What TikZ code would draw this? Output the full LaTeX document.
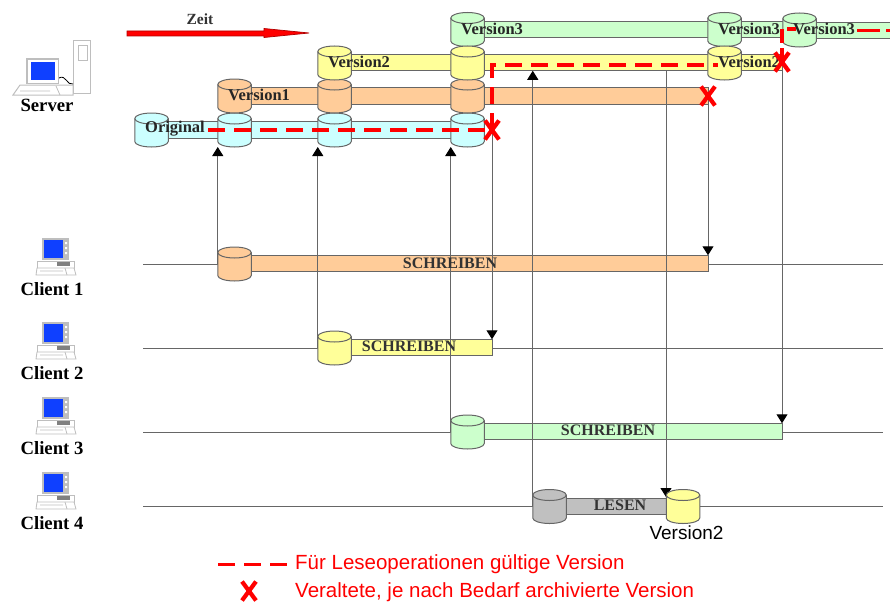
\documentclass[tikz,border=0pt]{standalone}
\usepackage{fontspec}
\setmainfont{Liberation Serif}
\newfontfamily\legendfont{Liberation Sans}
\usetikzlibrary{shapes.misc,arrows.meta}
\definecolor{cor}{HTML}{FFCC99}
\definecolor{cye}{HTML}{FFFF99}
\definecolor{cgr}{HTML}{CCFFCC}
\definecolor{ccy}{HTML}{CCFFFF}
\definecolor{cgy}{HTML}{C0C0C0}
\definecolor{edgeg}{HTML}{666666}
\definecolor{scr}{HTML}{0F40FF}
\definecolor{pcg}{HTML}{BEBEBE}
\tikzset{
 x=1pt,y=-1pt,
 barbox/.style={draw=edgeg,line width=1pt,inner sep=0pt,outer sep=0pt,minimum height=16.5pt,anchor=west},
 cylhull/.style={inner sep=0pt,outer sep=0pt,minimum width=33.5pt,minimum height=34pt},
 cyledge/.style={draw=edgeg,line width=1pt},
 lbl/.style={font=\fontsize{16.5}{16.5}\selectfont\bfseries,text=black!85,inner sep=0pt,anchor=west},
 clbl/.style={font=\fontsize{18.7}{18.7}\selectfont\bfseries,text=black,inner sep=0pt},
 schr/.style={font=\fontsize{16}{16}\selectfont\bfseries,text=black!80,inner sep=0pt},
 conn/.style={draw=edgeg,line width=1pt},
 connarrow/.style={conn,-{Triangle[width=11pt,length=9pt,color=black]}},
 tline/.style={draw=edgeg,line width=1pt},
 rdash/.style={draw=red,line width=3.6pt,dash pattern=on 17pt off 9pt},
 rx/.style={shape=cross out,draw=red,line width=4.2pt,inner sep=0pt,outer sep=0pt,minimum width=14pt,minimum height=19pt},
 legtext/.style={font=\fontsize{20.5}{20.5}\selectfont\legendfont,text=red,inner sep=0pt,anchor=west},
 pc/.pic={
  \fill[pcg] (5,-23) rectangle (32,-1);
  \fill[scr] (7,-21) rectangle (26,-3);
  \fill[white] (28,-19) rectangle (30,-17) (28,-14) rectangle (30,-12) (28,-9) rectangle (30,-7);
  \draw[pcg,fill=white,line width=.8pt] (0,0) rectangle (37,7);
  \fill[gray] (20,1) rectangle (33,5);
  \draw[pcg,fill=white,line width=.8pt] (0,7) -- (37,7) -- (39,14) -- (-1,14) -- cycle;
  \draw[pcg,line width=.8pt] (28,7) -- (30,14) (3,10) -- (26,10);
 }
}
% #1 name, #2 x, #3 y, #4 colour
\newcommand{\dbcyl}[4]{%
 \node[cylhull] (#1) at (#2,#3) {};
 \draw[cyledge,fill=#4] ([shift={(0,5.5)}]#1.north west) -- ([shift={(0,-5.5)}]#1.south west)
   .. controls +(0,3.04) and +(-9.25,0) .. (#1.south)
   .. controls +(9.25,0) and +(0,3.04) .. ([shift={(0,-5.5)}]#1.south east)
   -- ([shift={(0,5.5)}]#1.north east)
   .. controls +(0,-3.04) and +(9.25,0) .. (#1.north)
   .. controls +(-9.25,0) and +(0,-3.04) .. ([shift={(0,5.5)}]#1.north west) -- cycle;
 \draw[cyledge] ([shift={(0,5.5)}]#1.north west)
   .. controls +(0,3.04) and +(-9.25,0) .. ([shift={(0,11)}]#1.north)
   .. controls +(9.25,0) and +(0,3.04) .. ([shift={(0,5.5)}]#1.north east);
}
\begin{document}
\begin{tikzpicture}
\useasboundingbox (0,0) rectangle (890,602);
% time lines
\coordinate (t1s) at (143,264);\coordinate (t1e) at (883,264);
\coordinate (t2s) at (143,348);\coordinate (t2e) at (883,348);
\coordinate (t3s) at (143,432);\coordinate (t3e) at (883,432);
\coordinate (t4s) at (143,506);\coordinate (t4e) at (883,506);
\draw[tline] (t1s) -- (t1e);
\draw[tline] (t2s) -- (t2e);
\draw[tline] (t3s) -- (t3e);
\draw[tline] (t4s) -- (t4e);
% bars
\node[barbox,fill=ccy,minimum width=316pt] (ob) at (168,130) {};
\node[barbox,fill=cor,minimum width=490pt] (v1b) at (218,96) {};
\node[barbox,fill=cye,minimum width=464pt] (v2b) at (318,62.5) {};
\node[barbox,fill=cgr,minimum width=332pt] (v3b) at (451,29.5) {};
\node[barbox,fill=cgr,minimum width=80pt] (v3c) at (811,30.5) {};
\node[barbox,fill=cor,minimum width=457pt] (c1b) at (251,263.5) {};
\node[barbox,fill=cye,minimum width=141pt] (c2b) at (351,347.5) {};
\node[barbox,fill=cgr,minimum width=298pt] (c3b) at (484,431.5) {};
\node[barbox,fill=cgy,minimum width=100pt] (c4b) at (566,506.5) {};
% cylinders on the server
\dbcyl{o1}{151.5}{130}{ccy}
\dbcyl{o2}{234.5}{130}{ccy}
\dbcyl{o3}{334.5}{130}{ccy}
\dbcyl{o4}{467.5}{130}{ccy}
\dbcyl{a1}{234.5}{96}{cor}
\dbcyl{a2}{334.5}{96}{cor}
\dbcyl{a3}{467.5}{96}{cor}
\dbcyl{g1}{467.5}{29.5}{cgr}
\dbcyl{g2}{724.5}{29.5}{cgr}
\dbcyl{g3}{799.5}{30}{cgr}
\dbcyl{b1}{334.5}{63}{cye}
\dbcyl{b2}{467.5}{63}{cye}
\dbcyl{b3}{724.5}{63}{cye}
% cylinders on the clients
\dbcyl{k1}{234.5}{264}{cor}
\dbcyl{k2}{334.5}{348}{cye}
\dbcyl{k3}{467.5}{432}{cgr}
\dbcyl{k4}{549.5}{506.5}{cgy}
% connectors
\coordinate (xo) at (492,130);
\coordinate (rdtip) at (666,497);
\draw[connarrow] (k1.west) -- (k1.west |- o2.south);
\draw[connarrow] (k2.west) -- (k2.west |- o3.south);
\draw[connarrow] (k3.west) -- (k3.west |- o4.south);
\draw[connarrow] (k4.west) -- (k4.west |- v2b.south);
\draw[connarrow] (v1b.east) -- (c1b.north east);
\draw[connarrow] (xo) -- (c2b.north east);
\draw[connarrow] (v2b.east) -- (c3b.north east);
\draw[connarrow] (rdtip |- v2b.south) -- (rdtip);
\dbcyl{k5}{683}{506.5}{cye}
% labels
\node[lbl] (lo) at (145,128.5) {Original};
\node[lbl] (l1) at (228,95) {Version1};
\node[lbl] (l2a) at (328,62) {Version2};
\node[lbl] (l2b) at (718,62) {Version2};
\node[lbl] (l3a) at (461,28.5) {Version3};
\node[lbl] (l3b) at (718,28.5) {Version3};
\node[lbl] (l3c) at (793,29) {Version3};
\node[schr] (s1) at (450,263) {SCHREIBEN};
\node[schr] (s2) at (409,346) {SCHREIBEN};
\node[schr] (s3) at (608,430) {SCHREIBEN};
\node[schr] (s4) at (620,505) {LESEN};
\node[inner sep=0pt,font=\fontsize{19}{19}\selectfont\legendfont] (rv) at (686.5,533) {Version2};
% valid version path
\coordinate (d1) at (208,130);
\coordinate (d2) at (492,65);
\coordinate (d3) at (718,65);
\coordinate (d4) at (782,29);
\coordinate (d5) at (796,29);
\coordinate (d6) at (857,30.5);
\coordinate (d7) at (890,30.5);
\draw[rdash] (d1) -- (xo);
\draw[rdash] (xo) -- (d2) -- (d3);
\coordinate (xb) at (708,96);
\coordinate (xc) at (782,62);
\draw[rdash,dash pattern=on 14pt off 5pt] (xc) -- (d4) -- (d5);
\draw[rdash,dash pattern=on 23pt off 6pt] (d6) -- (d7);
\node[rx] (x1) at (xo) {};
\node[rx] (x2) at (xb) {};
\node[rx] (x3) at (xc) {};
% time arrow
\draw[draw=red!70!black,fill=red,line width=.7pt] (127,31) -- (264,31) -- (264,28.5) -- (309,33) -- (264,37.5) -- (264,36) -- (127,36) -- cycle;
\node[schr,font=\fontsize{15.5}{16}\selectfont\bfseries] (zeit) at (200,19.5) {Zeit};
% computers
\draw[pcg,fill=white,line width=1pt] (73,41) rectangle (90,93);
\draw[pcg,fill=white,line width=1pt] (78,46) rectangle (87,60);
\draw[black,line width=.8pt] (59,78) .. controls (66,74) and (67,86) .. (73,84);
\draw[pcg,fill=white,line width=1pt] (20,85) -- (73,85) -- (73,95) -- (13,95) -- cycle;
\draw[pcg,line width=.8pt] (56,86) -- (60,95) (20,91) -- (50,91);
\fill[pcg] (26,58) rectangle (59,84);
\fill[white] (27.5,59.5) rectangle (57.5,82.5);
\fill[scr] (31,62) rectangle (55,80);
\pic at (37,261) {pc};
\pic at (37,345) {pc};
\pic at (37,420) {pc};
\pic at (37,495) {pc};
\node[clbl] (srv) at (47,105) {Server};
\node[clbl] (c1) at (52,289) {Client 1};
\node[clbl] (c2) at (52,373) {Client 2};
\node[clbl] (c3) at (52,448) {Client 3};
\node[clbl] (c4) at (52,523) {Client 4};
% legend
\coordinate (la) at (218,564.5);
\coordinate (lb) at (287,564.5);
\draw[rdash] (la) -- (lb);
\node[rx] (lx) at (249,591) {};
\node[legtext] (t1) at (295,564) {Für Leseoperationen gültige Version};
\node[legtext] (t2) at (295,592) {Veraltete, je nach Bedarf archivierte Version};
\end{tikzpicture}
\end{document}
